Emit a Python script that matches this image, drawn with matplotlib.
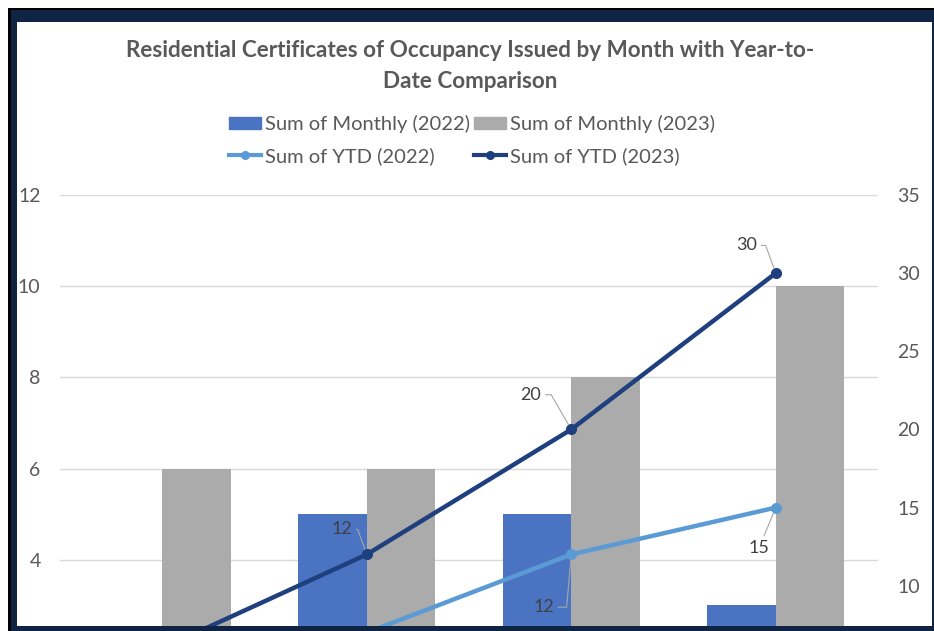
import numpy as np
import matplotlib.pyplot as plt
from matplotlib.lines import Line2D
from matplotlib.patches import Patch, Rectangle

plt.rcParams["font.family"] = ["Lato", "DejaVu Sans"]

# data (month names are cropped out of the screenshot)
months = ["M1", "M2", "M3", "M4"]
monthly_2022 = [2, 5, 5, 3]
monthly_2023 = [6, 6, 8, 10]
ytd_2022 = [2, 7, 12, 15]
ytd_2023 = [6, 12, 20, 30]

title = "Residential Certificates of Occupancy Issued by Month with Year-to-\nDate Comparison"
legend_labels = ["Sum of Monthly (2022)", "Sum of YTD (2022)",
                 "Sum of Monthly (2023)", "Sum of YTD (2023)"]

c_bar22 = "#4A74C2"
c_bar23 = "#ABABAB"
c_ytd22 = "#5B9BD5"
c_ytd23 = "#1F3F7E"
c_text = "#595959"
c_grid = "#D9D9D9"
c_frame = "#0F2443"

W, H = 934, 631
fig = plt.figure(figsize=(W / 100, H / 100), dpi=100)
fig.patch.set_facecolor("white")

# plot area, the lower part of it runs off the screenshot
ax = fig.add_axes([60 / W, 1 - 742 / H, 818 / W, 547 / H])
ax.set_facecolor("none")
x = np.arange(len(months))
w = 0.335
ax.bar(x - w / 2, monthly_2022, w, color=c_bar22, zorder=2)
ax.bar(x + w / 2, monthly_2023, w, color=c_bar23, zorder=2)
ax.set_xlim(-0.5, 3.5)
ax.set_ylim(0, 12)
ax.set_yticks(np.arange(4, 13, 2))  # lower ticks are cropped in the screenshot
ax.set_xticks([])
ax.grid(axis="y", color=c_grid, lw=1, zorder=0)
for s in ax.spines.values():
    s.set_visible(False)
ax.tick_params(axis="y", length=0, pad=14, labelsize=14, labelcolor=c_text)

ax2 = ax.twinx()
ax2.plot(x, ytd_2022, color=c_ytd22, lw=3.2, marker="o", ms=7, zorder=3)
ax2.plot(x, ytd_2023, color=c_ytd23, lw=3.2, marker="o", ms=7, zorder=3)
ax2.set_ylim(0, 35)
ax2.set_yticks(np.arange(10, 36, 5))
for s in ax2.spines.values():
    s.set_visible(False)
ax2.tick_params(axis="y", length=0, pad=14, labelsize=14, labelcolor=c_text)

# data labels visible in the screenshot: (index, offset in points, leader angle)
labels_22 = [(2, (-20, -38), 85), (3, (-12, -29), None)]
labels_23 = [(1, (-18, 18), 110), (2, (-29, 25), 120), (3, (-21, 20), 110)]
for series, lab in ((ytd_2022, labels_22), (ytd_2023, labels_23)):
    for i, off, ang in lab:
        if ang is None:
            cs = "arc3,rad=0"
        else:
            cs = "angle,angleA=0,angleB=%d,rad=0" % ang
        ax2.annotate(str(series[i]), xy=(x[i], series[i]), xytext=off,
                     textcoords="offset points", ha="center", va="center",
                     fontsize=13, color="#404040", zorder=5,
                     arrowprops=dict(arrowstyle="-", color="#A6A6A6", lw=0.8,
                                     shrinkA=1, shrinkB=4, connectionstyle=cs))

fig.text(470 / W, 1 - 66 / H, title, ha="center", va="center", fontsize=16.2,
         fontweight="bold", color=c_text, linespacing=1.6)

handles = [Patch(color=c_bar22),
           Line2D([], [], color=c_ytd22, lw=3, marker="o", ms=5.5),
           Patch(color=c_bar23),
           Line2D([], [], color=c_ytd23, lw=3, marker="o", ms=5.5)]
fig.legend(handles, legend_labels, ncol=2, loc="center",
           bbox_to_anchor=(472 / W, 1 - 140 / H), frameon=False,
           fontsize=14.5, labelcolor=c_text, handlelength=1.6,
           handleheight=0.6, handletextpad=0.2, columnspacing=0.2,
           labelspacing=0.7)

# dark screenshot frame
frame = [((8, 8), (W - 8, 2), "black"),
         ((11, 10), (W - 11, 12), c_frame),
         ((8, 8), (3, H - 8), "black"),
         ((11, 10), (6, H - 10), c_frame),
         ((11, H - 5), (W - 11, 5), c_frame),
         ((W - 2, 10), (2, H - 10), c_frame)]
for (px, py), (pw, ph), col in frame:
    fig.add_artist(Rectangle((px / W, 1 - (py + ph) / H), pw / W, ph / H,
                             transform=fig.transFigure, color=col, lw=0, zorder=10))

fig.savefig("out.png", dpi=100)
